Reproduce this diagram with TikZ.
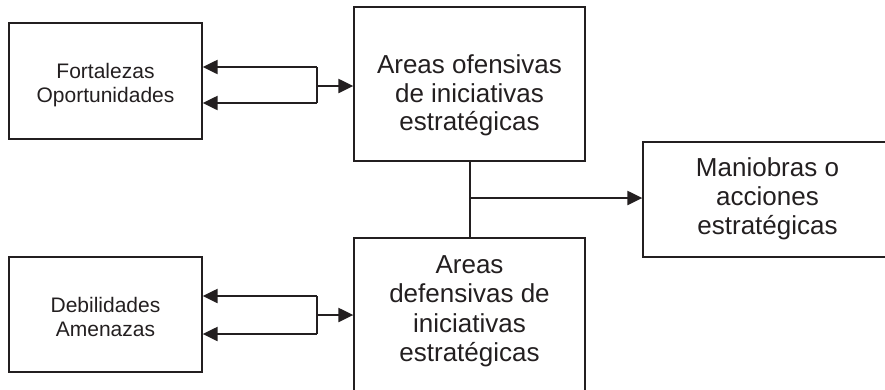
\documentclass[tikz,border=0pt]{standalone}
\usepackage{fontspec}
\setmainfont{Liberation Sans}
\usetikzlibrary{arrows.meta}
\definecolor{ink}{HTML}{231F20}
\tikzset{box/.style = {draw = ink, line width = 1.3pt, align = center, inner sep = 0, text = ink}}
\tikzset{small/.style = {font = \fontsize{21}{24}\selectfont}}
\tikzset{big/.style = {font = \fontsize{26}{28.5}\selectfont}}
\tikzset{arr/.style = {draw = ink, line width = 2.2pt, -{Triangle[length = 15pt, width = 14pt]}}}
\tikzset{link/.style = {draw = ink, line width = 1.5pt}}
\newcommand{\topspc}[1]{\rule{0pt}{#1pt}}
\newcommand{\botspc}[1]{\rule[-#1pt]{0pt}{#1pt}}

\begin{document}
\begin{tikzpicture}[x = 1pt, y = -1pt]
    \useasboundingbox (0,0) rectangle (885,389);
    % left column
    \node[box, small, minimum width = 193pt, minimum height = 116pt] (fo) at (105.5,81) {\topspc{23}Fortalezas\\Oportunidades\botspc{5}};
    \node[box, small, minimum width = 193pt, minimum height = 115pt] (de) at (105.5,314.5) {\topspc{24}Debilidades\\Amenazas\botspc{5}};
    % middle column
    \node[box, big, minimum width = 231pt, minimum height = 154pt] (of) at (469.5,84) {\topspc{44}Areas ofensivas\\de iniciativas\\estratégicas\botspc{8}};
    \node[box, font = \fontsize{26}{29.5}\selectfont, minimum width = 231pt, minimum height = 162pt] (df) at (469.5,319) {\topspc{20}Areas\\defensivas de\\iniciativas\\estratégicas\botspc{23.5}};
    % right
    \node[box, font = \fontsize{26}{29}\selectfont, minimum width = 249pt, minimum height = 115pt] (ma) at (767.5,199.5) {\topspc{20}Maniobras o\\acciones\\estratégicas\botspc{9}};

    \coordinate (fa) at (317,67);
    \coordinate (fb) at (317,103);
    \coordinate (fm) at (317,86);
    \draw[link] (fa) -- (fb);
    \draw[arr] (fa) -- (fa -| fo.east);
    \draw[arr] (fb) -- (fb -| fo.east);
    \draw[arr] (fm) -- (fm -| of.west);

    \coordinate (da) at (317,296);
    \coordinate (db) at (317,334);
    \coordinate (dm) at (317,315);
    \draw[link] (da) -- (db);
    \draw[arr] (da) -- (da -| de.east);
    \draw[arr] (db) -- (db -| de.east);
    \draw[arr] (dm) -- (dm -| df.west);

    \coordinate (mm) at (470,198);
    \draw[link] (of.south -| mm) -- (df.north -| mm);
    \draw[arr] (mm) -- (mm -| ma.west);
\end{tikzpicture}
\end{document}
